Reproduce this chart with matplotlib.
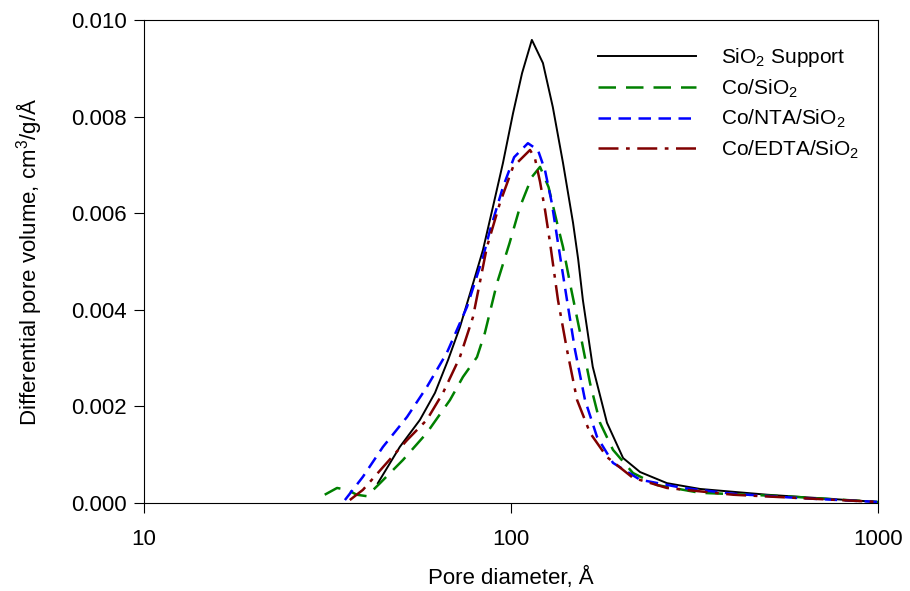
import numpy as np
import matplotlib
matplotlib.use("Agg")
import matplotlib.pyplot as plt
from matplotlib.ticker import NullLocator

plt.rcParams["font.family"] = ["Liberation Sans", "DejaVu Sans"]
plt.rcParams["mathtext.fontset"] = "custom"
plt.rcParams["mathtext.rm"] = "Liberation Sans"
plt.rcParams["mathtext.it"] = "Liberation Sans:italic"

# values (pore diameter in Å, dV in cm3/g/Å)
sio2_d = [43.4, 49.8, 56.5, 62.1, 67.4, 72.6, 78.3, 83.9, 89.3, 95.1, 101.3, 107.2,
          114, 122.2, 130, 138.6, 147.6, 152.4, 157, 167, 182.6, 202, 224.7, 266,
          327, 499, 754, 1000]
sio2_v = [0.00041, 0.00116, 0.00172, 0.00228, 0.00296, 0.00364, 0.00447, 0.00524,
          0.00613, 0.00704, 0.00807, 0.0089, 0.00959, 0.00911, 0.0082, 0.00704,
          0.0058, 0.00505, 0.0042, 0.00282, 0.00166, 0.00093, 0.00064, 0.00041,
          0.00029, 0.00017, 0.00008, 0.00002]

co_d = [31.1, 33.6, 35.9, 38.0, 40.5, 44.0, 50.8, 59.0, 68.2, 74.0, 80.8, 84.9,
        91.6, 99.1, 105.8, 114, 120, 126.6, 133.5, 138.6, 144.8, 154.3, 164.2,
        174.8, 189.6, 214.9, 250, 327, 551, 1000]
co_v = [0.00017, 0.00031, 0.00027, 0.00017, 0.00014, 0.00041, 0.00089, 0.00145,
        0.00213, 0.00261, 0.00302, 0.00352, 0.00455, 0.00538, 0.00613, 0.00675,
        0.00696, 0.00654, 0.0058, 0.0053, 0.00455, 0.00352, 0.00248, 0.00166,
        0.0011, 0.00062, 0.00037, 0.00021, 0.00014, 0.00002]

nta_d = [35.3, 39.5, 44.8, 52.1, 59.0, 66.9, 75.9, 83.9, 87.7, 95.1, 102, 111.2,
         118.4, 123.8, 129.2, 133.5, 142.1, 149.4, 159.1, 171.5, 189.6, 224.7,
         294.3, 402.7, 613, 1000]
nta_v = [0.00006, 0.00054, 0.00116, 0.00178, 0.0024, 0.00311, 0.00406, 0.00509,
         0.00565, 0.00654, 0.00716, 0.00745, 0.00731, 0.00689, 0.00621, 0.00551,
         0.0042, 0.00317, 0.00213, 0.00137, 0.00083, 0.00048, 0.00031, 0.00019,
         0.0001, 0.00002]

edta_d = [36.4, 39.5, 45.9, 52.1, 59.0, 65.3, 72.6, 78.8, 86, 93.3, 101.3, 112.7,
          116.2, 120, 123.8, 127.7, 134.3, 142.1, 151.4, 164.2, 182.6, 214.9, 266,
          402.7, 613, 1000]
edta_v = [0.00006, 0.00027, 0.00083, 0.0013, 0.00172, 0.00228, 0.00302, 0.00385,
          0.0053, 0.00621, 0.00696, 0.00731, 0.00714, 0.00665, 0.00607, 0.0054,
          0.0042, 0.00317, 0.00213, 0.00145, 0.00095, 0.00052, 0.00031, 0.00017,
          0.0001, 0.00002]

fig = plt.figure(figsize=(9.1, 5.91), dpi=100)
ax = fig.add_axes([0.158, 0.149, 0.807, 0.817])

ax.plot(sio2_d, sio2_v, color="black", lw=1.4, label="SiO$_2$ Support")
ax.plot(co_d, co_v, color="#008000", lw=1.8, dashes=(7, 4), label="Co/SiO$_2$")
ax.plot(nta_d, nta_v, color="#0000ff", lw=1.8, dashes=(5, 3), label="Co/NTA/SiO$_2$")
ax.plot(edta_d, edta_v, color="#800000", lw=1.8, dashes=(8, 3, 1.5, 3),
        label="Co/EDTA/SiO$_2$")

ax.set_xscale("log")
ax.set_xlim(10, 1000)
ax.set_ylim(0, 0.010)
ax.set_xticks([10, 100, 1000])
ax.set_xticklabels(["10", "100", "1000"])
ax.xaxis.set_minor_locator(NullLocator())
ax.set_yticks(np.arange(0, 0.0101, 0.002))
ax.set_yticklabels(["0.000", "0.002", "0.004", "0.006", "0.008", "0.010"])
ax.tick_params(direction="out", length=7, labelsize=16, top=False, right=False)
ax.tick_params(axis="x", pad=12)
ax.tick_params(axis="y", pad=5)

ax.set_xlabel("Pore diameter, Å", fontsize=16, labelpad=12)
ax.set_ylabel("Differential pore volume, cm$^3$/g/Å", fontsize=16, labelpad=20)

ax.legend(loc="upper right", frameon=False, fontsize=15, handlelength=4.7,
          handletextpad=1.2, labelspacing=0.4, bbox_to_anchor=(1.0, 0.985))

fig.savefig("out.png", dpi=100)
